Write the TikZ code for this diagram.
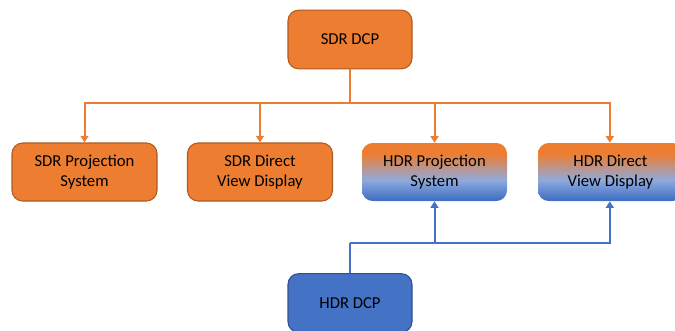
\documentclass[tikz,border=0pt]{standalone}
\usepackage{fontspec}
\setmainfont{Carlito}
\usetikzlibrary{arrows.meta}
\definecolor{ora}{RGB}{237,125,49}
\definecolor{oraline}{RGB}{174,90,33}
\definecolor{blu}{RGB}{68,114,196}
\definecolor{bluline}{RGB}{47,82,143}
\definecolor{lblu}{RGB}{143,170,220}
\pgfdeclareverticalshading{hdrfade}{100bp}{color(0bp)=(blu); color(27bp)=(blu); color(43bp)=(lblu); color(66bp)=(ora); color(100bp)=(ora)}
\tikzset{
  sdrbox/.style={draw=oraline, line width=0.8pt, fill=ora, rounded corners=8pt, minimum width=108.75pt, minimum height=43.5pt, align=center, font=\fontsize{12.5}{15}\selectfont},
  hdrbox/.style={shading=hdrfade, rounded corners=8pt, minimum width=108.75pt, minimum height=43.5pt, align=center, font=\fontsize{12.5}{15}\selectfont},
  dcpbox/.style={rounded corners=8pt, line width=0.8pt, minimum width=93pt, minimum height=44pt, font=\fontsize{12.5}{15}\selectfont},
  oline/.style={draw=ora, line width=1.5pt},
  bline/.style={draw=blu, line width=1.5pt},
  tip/.style={-{Triangle[width=6pt,length=5pt]}}
}
\begin{document}
\begin{tikzpicture}[x=0.75pt,y=0.75pt,yscale=-1,xscale=1]
\useasboundingbox (0,0) rectangle (675,330);
\clip (0,0) rectangle (675,330);

% Boxes
\node [dcpbox, draw=oraline, fill=ora] (sdrdcp) at (350,39.5) {SDR DCP};
\node [sdrbox] (sdrproj) at (84.5,172) {SDR Projection\\System};
\node [sdrbox] (sdrdir) at (260,172) {SDR Direct\\View Display};
\node [hdrbox] (hdrproj) at (434.5,172) {HDR Projection\\System};
\node [hdrbox] (hdrdir) at (610.5,172) {HDR Direct\\View Display};
\node [dcpbox, draw=bluline, fill=blu] (hdrdcp) at (350,303) {HDR DCP};

% Orange connectors
\coordinate (obus) at (350,103);
\draw [oline] (sdrdcp.south) -- (obus);
\draw [oline, tip] (obus) -| (sdrproj.north);
\draw [oline, tip] (obus) -| (sdrdir.north);
\draw [oline, tip] (obus) -| (hdrproj.north);
\draw [oline, tip] (obus) -| ([xshift=-0.5]hdrdir.north);

% Blue connectors
\coordinate (bbus) at (350,243);
\draw [bline] (hdrdcp.north) -- (bbus);
\draw [bline, tip] (bbus) -| (hdrproj.south);
\draw [bline, tip] (bbus) -| ([xshift=-0.5]hdrdir.south);

\end{tikzpicture}
\end{document}
